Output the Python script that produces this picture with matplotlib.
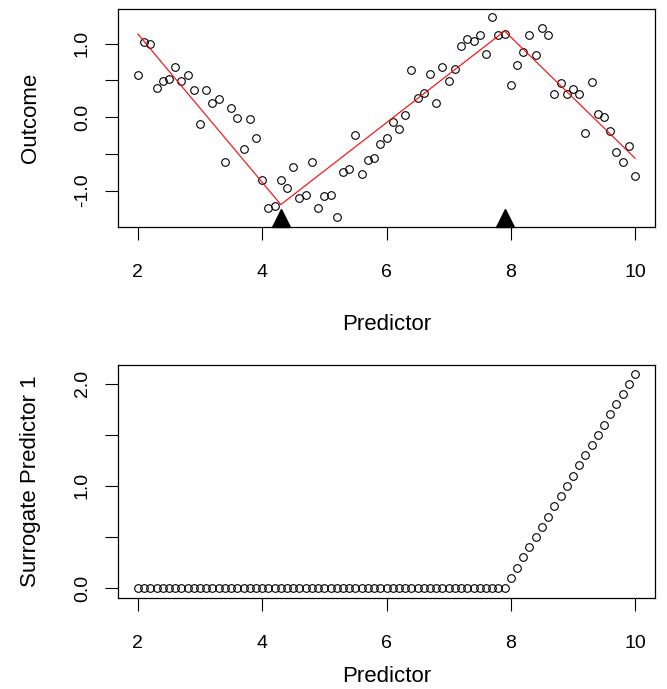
import matplotlib
matplotlib.use("Agg")
import matplotlib.pyplot as plt

plt.rcParams['font.family'] = ['Liberation Sans', 'DejaVu Sans']

predictor = [2.0, 2.1, 2.2, 2.3, 2.4, 2.5, 2.6, 2.7, 2.8, 2.9,
             3.0, 3.1, 3.2, 3.3, 3.4, 3.5, 3.6, 3.7, 3.8, 3.9,
             4.0, 4.1, 4.2, 4.3, 4.4, 4.5, 4.6, 4.7, 4.8, 4.9,
             5.0, 5.1, 5.2, 5.3, 5.4, 5.5, 5.6, 5.7, 5.8, 5.9,
             6.0, 6.1, 6.2, 6.3, 6.4, 6.5, 6.6, 6.7, 6.8, 6.9,
             7.0, 7.1, 7.2, 7.3, 7.4, 7.5, 7.6, 7.7, 7.8, 7.9,
             8.0, 8.1, 8.2, 8.3, 8.4, 8.5, 8.6, 8.7, 8.8, 8.9,
             9.0, 9.1, 9.2, 9.3, 9.4, 9.5, 9.6, 9.7, 9.8, 9.9,
             10.0]

outcome = [0.575, 1.02, 1.00, 0.39, 0.49, 0.52, 0.68, 0.49, 0.575, 0.37,
           -0.09, 0.375, 0.19, 0.25, -0.61, 0.13, -0.01, -0.43, -0.03, -0.29,
           -0.85, -1.24, -1.21, -0.85, -0.96, -0.675, -1.10, -1.065, -0.61, -1.24,
           -1.08, -1.055, -1.36, -0.75, -0.71, -0.25, -0.775, -0.58, -0.56, -0.37,
           -0.28, -0.07, -0.16, 0.03, 0.64, 0.26, 0.33, 0.59, 0.19, 0.68,
           0.49, 0.66, 0.96, 1.06, 1.04, 1.12, 0.86, 1.36, 1.12, 1.13,
           0.44, 0.71, 0.88, 1.12, 0.84, 1.21, 1.12, 0.32, 0.46, 0.31,
           0.38, 0.32, -0.21, 0.475, 0.04, -0.005, -0.19, -0.47, -0.61, -0.39,
           -0.80]

fit_x = [2.0, 4.3, 7.9, 10.0]
fit_y = [1.13, -1.19, 1.17, -0.56]

knots_x = [4.3, 7.9]
knots_y = [-1.37, -1.37]

surrogate = [0.0, 0.0, 0.0, 0.0, 0.0, 0.0, 0.0, 0.0, 0.0, 0.0,
             0.0, 0.0, 0.0, 0.0, 0.0, 0.0, 0.0, 0.0, 0.0, 0.0,
             0.0, 0.0, 0.0, 0.0, 0.0, 0.0, 0.0, 0.0, 0.0, 0.0,
             0.0, 0.0, 0.0, 0.0, 0.0, 0.0, 0.0, 0.0, 0.0, 0.0,
             0.0, 0.0, 0.0, 0.0, 0.0, 0.0, 0.0, 0.0, 0.0, 0.0,
             0.0, 0.0, 0.0, 0.0, 0.0, 0.0, 0.0, 0.0, 0.0, 0.0,
             0.1, 0.2, 0.3, 0.4, 0.5, 0.6, 0.7, 0.8, 0.9, 1.0,
             1.1, 1.2, 1.3, 1.4, 1.5, 1.6, 1.7, 1.8, 1.9, 2.0,
             2.1]

x_ticks = [2, 4, 6, 8, 10]
top_y_ticks = [-1.0, -0.5, 0.0, 0.5, 1.0]
top_y_labels = ["-1.0", "", "0.0", "", "1.0"]
bot_y_ticks = [0.0, 0.5, 1.0, 1.5, 2.0]
bot_y_labels = ["0.0", "", "1.0", "", "2.0"]

W, H = 667, 689
fig = plt.figure(figsize=(W / 100, H / 100), dpi=100)

def frac(l, t, r, b):
    return [l / W, 1 - b / H, (r - l) / W, (b - t) / H]

ax1 = fig.add_axes(frac(118, 9, 655, 227))
ax2 = fig.add_axes(frac(118, 365, 655, 598))

tfs = 14
lfs = 16
for ax in (ax1, ax2):
    for s in ax.spines.values():
        s.set_linewidth(0.9)
        s.set_color('black')
    ax.tick_params(direction='out', length=9.5, width=0.8, labelsize=tfs, colors='black')
    ax.tick_params(axis='x', pad=17)
    ax.tick_params(axis='y', pad=10)
    ax.set_xlim(1.68, 10.32)
    ax.set_xticks(x_ticks)
    ax.set_xticklabels([str(t) for t in x_ticks])

ax1.set_xlabel("Predictor", fontsize=lfs, labelpad=24)
ax2.set_xlabel("Predictor", fontsize=lfs, labelpad=10)

ax1.plot(predictor, outcome, linestyle='none', marker='o', ms=5.5,
         mfc='none', mec='black', mew=0.8)
ax1.plot(fit_x, fit_y, color='red', lw=0.8)
ax1.plot(knots_x, knots_y, linestyle='none', marker='^', ms=13, color='black', clip_on=False)
ax1.set_ylim(-1.495, 1.47)
ax1.set_yticks(top_y_ticks)
ax1.set_yticklabels(top_y_labels, rotation=90, va='center')
ax1.set_ylabel("Outcome", fontsize=lfs, labelpad=24)

ax2.plot(predictor, surrogate, linestyle='none', marker='o', ms=5.5,
         mfc='none', mec='black', mew=0.8)
ax2.set_ylim(-0.098, 2.184)
ax2.set_yticks(bot_y_ticks)
ax2.set_yticklabels(bot_y_labels, rotation=90, va='center')
ax2.set_ylabel("Surrogate Predictor 1", fontsize=lfs, labelpad=24)

fig.savefig("out.png", dpi=100)
